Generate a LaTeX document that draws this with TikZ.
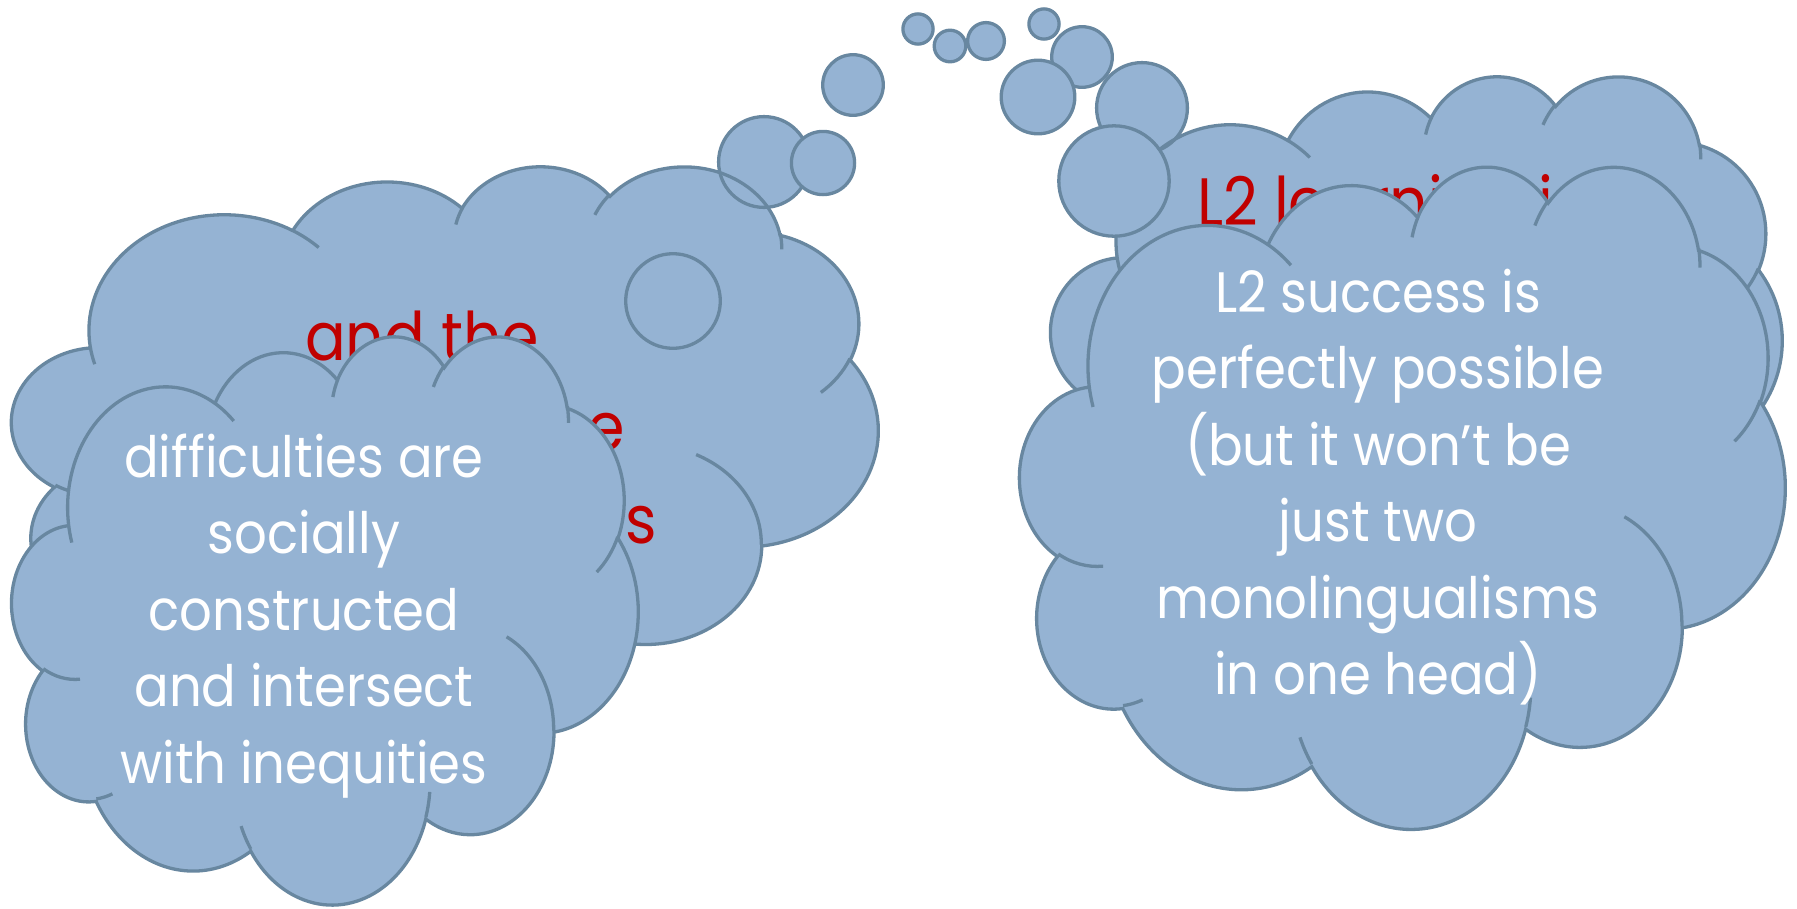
\documentclass[tikz,border=0pt]{standalone}
\usepackage{fontspec}
\setmainfont{Poppins}[FakeStretch=0.9]
\definecolor{puff}{RGB}{149,179,211}
\definecolor{puffline}{RGB}{104,135,160}
\definecolor{thinkred}{RGB}{192,0,0}

% lobe of a cloud: x radius, y radius, start angle, sweep (angles as seen on the ellipse)
\def\lobe#1#2#3#4{arc[x radius=#1, y radius=#2,
  start angle={atan2(#1*sin(#3),#2*cos(#3))},
  delta angle={mod(atan2(#1*sin(#3+#4),#2*cos(#3+#4))-atan2(#1*sin(#3),#2*cos(#3))+540,360)-180}]}

% cloud in a 4320 x 4320 box, y pointing down
\def\cloudoutline{(390,1437)
  \lobe{675.3}{919.0}{-190.487}{123.781}
  \lobe{533.3}{726.7}{-144.102}{89.945}
  \lobe{436.5}{594.5}{-145.808}{99.723}
  \lobe{485.7}{659.5}{-130.986}{117.242}
  \lobe{533.3}{727.3}{-78.709}{109.027}
  \lobe{677.5}{922.0}{-46.267}{130.269}
  \lobe{578.5}{786.7}{0.625}{114.033}
  \lobe{675.2}{921.5}{22.452}{115.173}
  \lobe{772.0}{1054.3}{66.243}{75.711}
  \lobe{436.0}{591.8}{-274.942}{146.736}
  \lobe{434.5}{594.5}{-246.829}{152.519} -- cycle}

% the short creases inside the cloud
\def\cloudcreases{
  (469.3,2617.7) \lobe{434.5}{594.5}{86.742}{26.430}
  (692.8,3489.9) \lobe{436.0}{591.8}{73.610}{11.447}
  (1647.8,3909.0) \lobe{675.2}{921.5}{137.624}{14.081}
  (2882.7,3475.1) \lobe{675.2}{921.5}{6.453}{15.998}
  (3412.9,2295.4) \lobe{578.5}{786.7}{-70.292}{70.917}
  (4179.8,1535.4) \lobe{533.3}{727.3}{30.318}{27.752}
  (3832.4,542.6) \lobe{485.7}{659.5}{-13.744}{14.859}
  (2907.8,395.2) \lobe{485.7}{659.5}{-149.181}{18.195}
  (2214.1,472.0) \lobe{436.5}{594.5}{-163.494}{17.686}
  (1400.0,519.2) \lobe{675.3}{919.0}{-66.707}{12.319}
  (412.7,1578.9) \lobe{675.3}{919.0}{157.654}{11.858}}

\tikzset{
  puffedge/.style={draw=puffline, line width=3.3pt},
  bubble/.style={fill=puff, puffedge},
  whitetext/.style={inner sep=0pt, text=white, font=\fontsize{57}{76}\selectfont},
  redtext/.style={inner sep=0pt, text=thinkred, font=\fontsize{67}{91}\selectfont},
  % boxes of the four clouds
  leftback/.style={shift={(12,165)}, x=0.20046pt, y=-0.12616pt},
  leftfront/.style={shift={(12,335)}, x=0.14491pt, y=-0.13148pt},
  rightback/.style={shift={(1051,75)}, x=0.16921pt, y=-0.12616pt},
  rightfront/.style={shift={(1020,165)}, x=0.17708pt, y=-0.15324pt}
}

\begin{document}
\begin{tikzpicture}[x=1pt, y=-1pt]
  \useasboundingbox (0,0) rectangle (1797,908);

  %%%%% LEFT %%%%%
  \fill[puff, leftback] \cloudoutline;
  \draw[bubble] (764,162) circle (45.4pt);
  \draw[bubble] (853,85) circle (30.3pt);
  \draw[bubble] (918,29) circle (15.1pt);
  \draw[puffedge, leftback] \cloudoutline \cloudcreases;

  \node[redtext, anchor=base west] (lbtop) at (305,360) {and the};
  \node[redtext, anchor=base east] (lbmid) at (625,450) {e};
  \node[redtext, anchor=base east] (lbend) at (657,543) {rs};

  \fill[puff, leftfront] \cloudoutline;
  \draw[bubble] (673,301) circle (47.3pt);
  \draw[bubble] (823,163) circle (31.6pt);
  \draw[bubble] (950,46) circle (15.8pt);
  \draw[puffedge, leftfront] \cloudoutline \cloudcreases;

  \foreach \txt [count=\k from 0] in {difficulties are, socially, constructed,
      and intersect, with inequities}
    \node[whitetext, anchor=base] (lf\k) at (304,477+76.5*\k) {\txt};

  %%%%% RIGHT %%%%%
  \fill[puff, rightback] \cloudoutline;
  \draw[bubble] (1142,108) circle (45.4pt);
  \draw[bubble] (1082,57) circle (30.3pt);
  \draw[bubble] (1044,24) circle (15.1pt);
  \draw[puffedge, rightback] \cloudoutline \cloudcreases;

  \node[redtext, anchor=base west] (rbtop) at (1197,225) {L2 learning is};

  \fill[puff, rightfront] \cloudoutline;
  \draw[bubble] (1114,181) circle (55.2pt);
  \draw[bubble] (1038,97) circle (36.8pt);
  \draw[bubble] (986,41) circle (18.4pt);
  \draw[puffedge, rightfront] \cloudoutline \cloudcreases;

  \foreach \txt [count=\k from 0] in {L2 success is, perfectly possible,
      {(but it won’t be}, just two, monolingualisms, {in one head)}}
    \node[whitetext, anchor=base] (rf\k) at (1378,312+76.5*\k) {\txt};
\end{tikzpicture}
\end{document}
